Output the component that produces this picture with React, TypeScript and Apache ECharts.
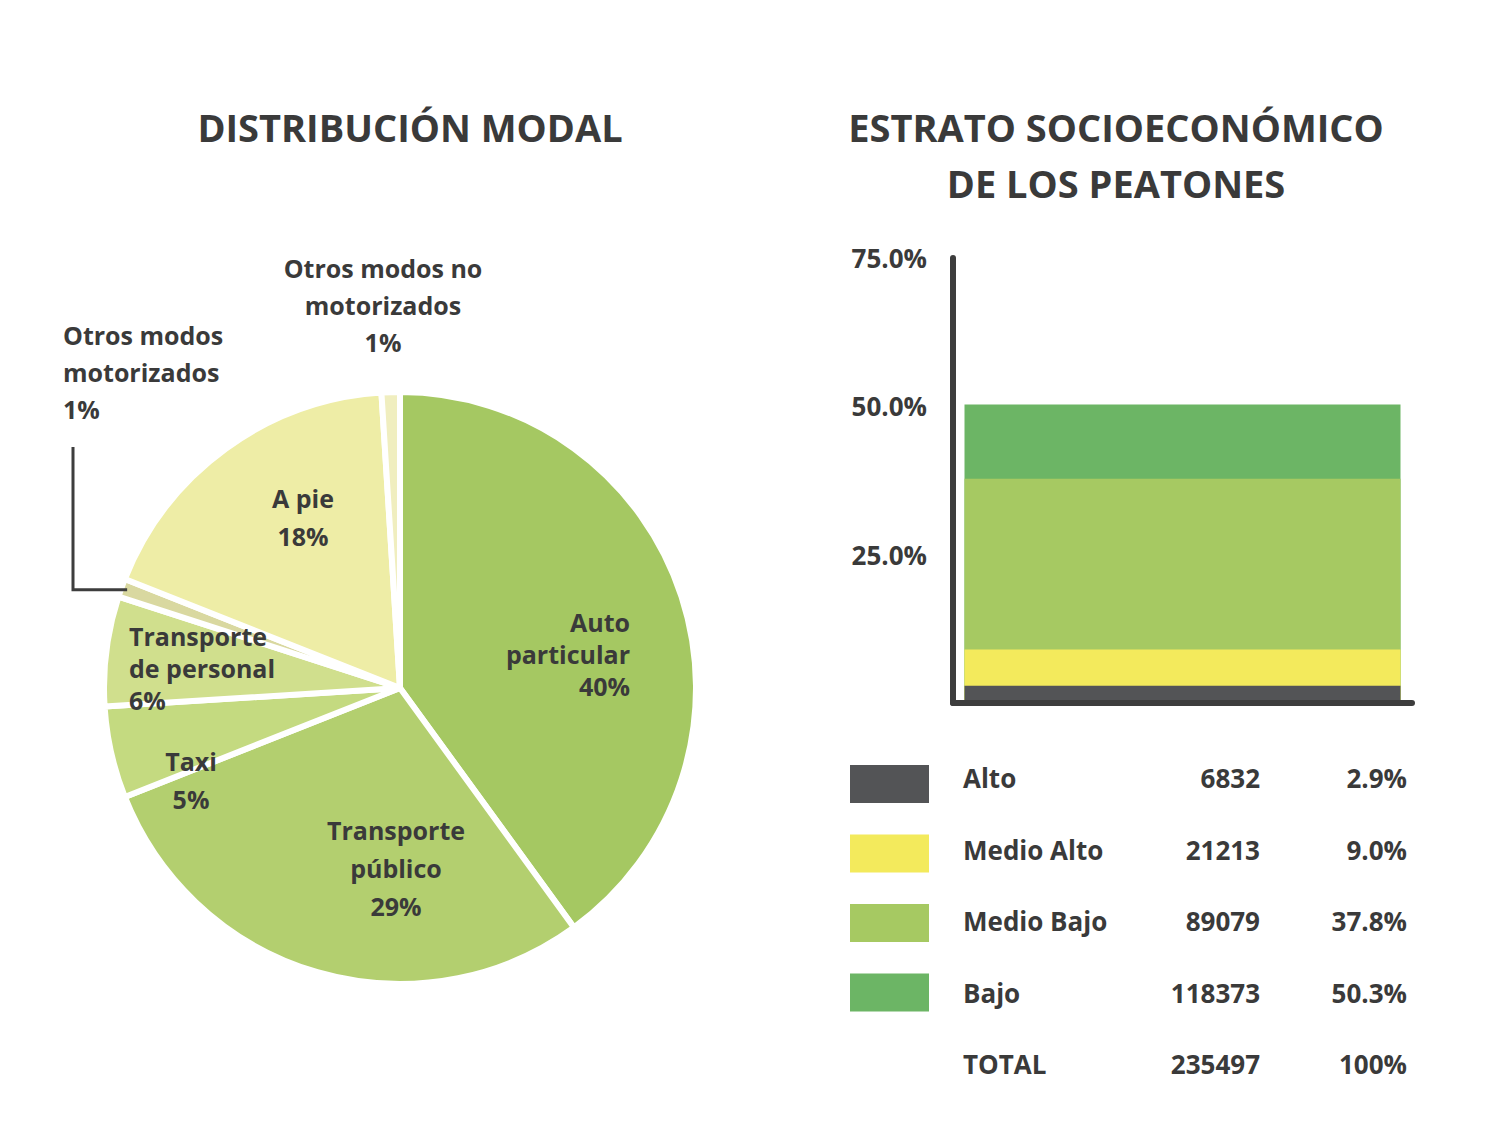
import React, { useEffect, useRef } from 'react';
import * as echarts from 'echarts';

// Distribución modal (share of trips per mode, %)
const modeNames = [
  'Auto particular',
  'Transporte público',
  'Taxi',
  'Transporte de personal',
  'Otros modos motorizados',
  'A pie',
  'Otros modos no motorizados',
];
const modeLabelText = [
  'Auto\nparticular',
  'Transporte\npúblico',
  'Taxi',
  'Transporte\nde personal',
  'Otros modos\nmotorizados',
  'A pie',
  'Otros modos no\nmotorizados',
];
const modeShares = [40, 29, 5, 6, 1, 18, 1];
const modeColors = ['#a5c862', '#b3cf6f', '#c4da80', '#d0df8d', '#d9d8a0', '#eeeda6', '#f0eebf'];

// Estrato socioeconómico de los peatones
const strata = ['Alto', 'Medio Alto', 'Medio Bajo', 'Bajo'];
const strataCounts = [6832, 21213, 89079, 118373];
const strataShares = [2.9, 9.0, 37.8, 50.3];
const strataColors = ['#535456', '#f3ea5c', '#a6c962', '#6cb565'];
const totalLabel = 'TOTAL';
const totalShareText = '100%';

const TEXT = '#3a3a3a';
const FONT = '"Open Sans", Lato, sans-serif';

const PIE_CENTER = [400, 688];
const PIE_RADIUS = 296;

// where each pie label sits (anchor, alignment, line height)
const modeLabelSpots = [
  { x: 630, y: 654, align: 'right', lh: 32 },
  { x: 396, y: 868, align: 'center', lh: 38 },
  { x: 191, y: 780, align: 'center', lh: 38 },
  { x: 129, y: 668, align: 'left', lh: 32 },
  { x: 63, y: 372, align: 'left', lh: 37 },
  { x: 303, y: 517, align: 'center', lh: 38 },
  { x: 383, y: 305, align: 'center', lh: 37 },
];

export default function App() {
  const ref = useRef<HTMLDivElement>(null);

  useEffect(() => {
    if (!ref.current) return;
    const chart = echarts.init(ref.current, null, { renderer: 'svg' });

    const total = strataCounts.reduce((a, b) => a + b, 0);
    const tableFont = `bold 26px ${FONT}`;

    // table beside the bar chart: swatch, name, count, share
    const tableItems: any[] = [];
    const cell = (x: number, y: number, text: string, align: string) => ({
      type: 'text',
      x,
      y,
      style: { text, fill: TEXT, font: tableFont, textAlign: align, textVerticalAlign: 'middle' },
    });
    strata.forEach((s, i) => {
      const ry = 784 + i * 69.5;
      const ty = 778 + i * 71.5;
      tableItems.push({
        type: 'rect',
        shape: { x: 850, y: ry - 19, width: 79, height: 38 },
        style: { fill: strataColors[i] },
      });
      tableItems.push(cell(963, ty, s, 'left'));
      tableItems.push(cell(1260, ty, String(strataCounts[i]), 'right'));
      tableItems.push(cell(1407, ty, strataShares[i].toFixed(1) + '%', 'right'));
    });
    const totalY = 778 + strata.length * 71.5;
    tableItems.push(
      cell(963, totalY, totalLabel, 'left'),
      cell(1260, totalY, String(total), 'right'),
      cell(1407, totalY, totalShareText, 'right')
    );

    // leader line from the "Otros modos motorizados" label to its thin slice
    const sum = modeShares.reduce((a, b) => a + b, 0);
    const before = modeShares.slice(0, 4).reduce((a, b) => a + b, 0);
    const midDeg = ((before + modeShares[4] / 2) / sum) * 360; // clockwise from 12 o'clock
    const midRad = (midDeg * Math.PI) / 180;
    const tipR = PIE_RADIUS - 6;
    const tipX = PIE_CENTER[0] + tipR * Math.sin(midRad);
    const tipY = PIE_CENTER[1] - tipR * Math.cos(midRad);
    const leader = {
      type: 'polyline',
      shape: { points: [[73, 447], [73, tipY], [tipX, tipY]] },
      style: { stroke: '#3d3d3d', lineWidth: 3, fill: 'none' },
      z: 10,
    };

    // order from back to front so the smaller bars stay visible
    const drawOrder = [3, 2, 1, 0];

    const titleStyle = { fontFamily: FONT, fontWeight: 700, fontSize: 38, color: TEXT, lineHeight: 56 };

    const option: any = {
      animation: false,
      backgroundColor: '#ffffff',
      textStyle: { fontFamily: FONT },
      title: [
        {
          text: 'DISTRIBUCIÓN MODAL',
          left: 405,
          top: 94,
          textAlign: 'center',
          textStyle: titleStyle,
        },
        {
          text: 'ESTRATO SOCIOECONÓMICO\nDE LOS PEATONES',
          left: 1111,
          top: 94,
          textAlign: 'center',
          textStyle: titleStyle,
        },
      ],
      grid: { left: 953, top: 258, width: 459, height: 445 },
      xAxis: {
        type: 'category',
        data: ['Peatones'],
        z: 5,
        axisLine: { show: true, lineStyle: { color: '#3d3d3d', width: 6, cap: 'round' } },
        axisTick: { show: false },
        axisLabel: { show: false },
      },
      yAxis: {
        type: 'value',
        min: 0,
        max: 75,
        interval: 25,
        z: 5,
        axisLine: { show: true, lineStyle: { color: '#3d3d3d', width: 6, cap: 'round' } },
        axisTick: { show: false },
        splitLine: { show: false },
        axisLabel: {
          margin: 26,
          color: TEXT,
          fontFamily: FONT,
          fontWeight: 'bold',
          fontSize: 26,
          formatter: (v: number) => (v === 0 ? '' : v.toFixed(1) + '%'),
        },
      },
      series: [
        {
          type: 'pie',
          center: PIE_CENTER,
          radius: PIE_RADIUS,
          startAngle: 90,
          clockwise: true,
          silent: true,
          avoidLabelOverlap: false,
          itemStyle: { borderColor: '#ffffff', borderWidth: 6 },
          label: {
            show: true,
            position: 'inside',
            color: TEXT,
            fontFamily: FONT,
            fontWeight: 'bold',
            fontSize: 25,
            formatter: (p: any) => `${modeLabelText[p.dataIndex]}\n${p.value}%`,
          },
          labelLine: { show: false },
          labelLayout: (p: any) => {
            const s = modeLabelSpots[p.dataIndex];
            return { x: s.x, y: s.y, align: s.align, verticalAlign: 'middle' };
          },
          data: modeNames.map((n, i) => ({
            name: n,
            value: modeShares[i],
            itemStyle: { color: modeColors[i] },
            label: { lineHeight: modeLabelSpots[i].lh },
          })),
        },
        ...drawOrder.map((i) => ({
          type: 'bar',
          name: strata[i],
          data: [strataShares[i]],
          barWidth: 436,
          barGap: '-100%',
          silent: true,
          itemStyle: { color: strataColors[i] },
        })),
      ],
      graphic: [...tableItems, leader],
    };

    chart.setOption(option);
    return () => chart.dispose();
  }, []);

  return (
    <div
      ref={ref}
      style={{ position: 'fixed', left: 0, top: 0, width: 1492, height: 1125, background: '#fff' }}
    />
  );
}
